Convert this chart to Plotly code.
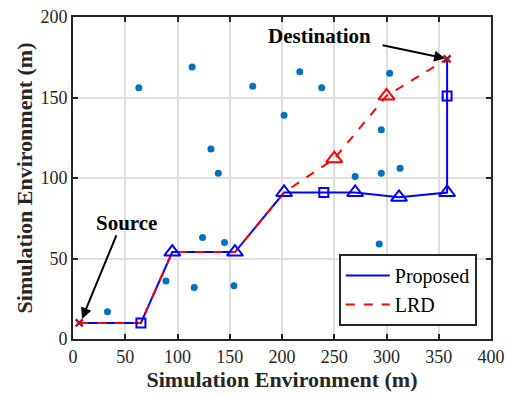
import plotly.graph_objects as go

# Scattered nodes in the environment
node_x = [63, 114, 172, 217, 238, 303, 202, 132, 139, 295, 270, 295, 313, 124, 145, 293, 89, 116, 154, 33]
node_y = [156, 169, 157, 166, 156, 165, 139, 118, 103, 130, 101, 103, 106, 63, 60, 59, 36, 32, 33, 17]

# Proposed route
prop_x = [6, 65, 95, 155, 202, 240, 270, 312, 358, 358, 358]
prop_y = [10, 10, 54, 54, 91, 91, 91, 88, 91, 151, 174]
prop_sq_x = [65, 240, 358]
prop_sq_y = [10, 91, 151]
prop_tri_x = [95, 155, 202, 270, 312, 358]
prop_tri_y = [54, 54, 91, 91, 88, 91]

# LRD route
lrd_x = [6, 65, 95, 155, 202, 250, 300, 358]
lrd_y = [10, 10, 54, 54, 91, 112, 151, 174]
lrd_tri_x = [250, 300]
lrd_tri_y = [112, 151]

# Source / destination
sd_x = [6, 358]
sd_y = [10, 174]

BLUE = "#0000FF"
RED = "#FF0000"
DOT = "#0072BD"
DARKRED = "#A2142F"
FONT = "Liberation Serif"

fig = go.Figure()
fig.add_trace(go.Scatter(x=node_x, y=node_y, mode="markers",
                         marker=dict(color=DOT, size=7), showlegend=False))
fig.add_trace(go.Scatter(x=prop_x, y=prop_y, mode="lines", name="Proposed",
                         line=dict(color=BLUE, width=2)))
fig.add_trace(go.Scatter(x=lrd_x, y=lrd_y, mode="lines", name="LRD",
                         line=dict(color=RED, width=2, dash="dash")))
fig.add_trace(go.Scatter(x=prop_sq_x, y=prop_sq_y, mode="markers", showlegend=False,
                         marker=dict(symbol="square-open", color=BLUE, size=9,
                                     line=dict(width=2, color=BLUE))))
fig.add_trace(go.Scatter(x=prop_tri_x, y=prop_tri_y, mode="markers", showlegend=False,
                         marker=dict(symbol="triangle-up-open", color=BLUE, size=14,
                                     line=dict(width=2, color=BLUE))))
fig.add_trace(go.Scatter(x=lrd_tri_x, y=lrd_tri_y, mode="markers", showlegend=False,
                         marker=dict(symbol="triangle-up-open", color=RED, size=14,
                                     line=dict(width=2, color=RED))))
fig.add_trace(go.Scatter(x=sd_x, y=sd_y, mode="markers", showlegend=False,
                         marker=dict(symbol="x-thin", color=DARKRED, size=7,
                                     line=dict(width=2.5, color=DARKRED))))

axis_common = dict(showgrid=True, gridcolor="#DFDFDF", gridwidth=2,
                   showline=True, linecolor="#262626", linewidth=2, mirror="ticks",
                   ticks="inside", ticklen=5, tickwidth=1.5, tickcolor="#262626",
                   zeroline=False, automargin=False, ticklabeloverflow="allow",
                   tickfont=dict(family=FONT, size=18, color="#262626"))

fig.update_layout(
    width=506, height=396,
    margin=dict(l=73, r=15, t=17, b=57),
    plot_bgcolor="white", paper_bgcolor="white",
    xaxis=dict(range=[0, 400], dtick=50,
               title=dict(text="<b>Simulation Environment (m)</b>", standoff=2,
                          font=dict(family=FONT, size=22, color="#262626")),
               **axis_common),
    yaxis=dict(range=[0, 200], dtick=50,
               title=dict(text="<b>Simulation Environment (m)</b>", standoff=2,
                          font=dict(family=FONT, size=22, color="#262626")),
               **axis_common),
    legend=dict(x=0.966, y=0.04, xanchor="right", yanchor="bottom",
                bgcolor="white", bordercolor="#262626", borderwidth=2,
                font=dict(family=FONT, size=20, color="black"),
                tracegroupgap=0, itemwidth=44),
    annotations=[
        dict(x=358, y=174, ax=-66, ay=-14, xref="x", yref="y", axref="pixel", ayref="pixel",
             text="", showarrow=True, arrowhead=2, arrowsize=1.1, arrowwidth=2,
             arrowcolor="black", standoff=2),
        dict(x=236, y=188, xref="x", yref="y", text="<b>Destination</b>", showarrow=False,
             font=dict(family=FONT, size=21, color="black")),
        dict(x=8.6, y=12.5, ax=35, ay=-85, xref="x", yref="y", axref="pixel", ayref="pixel",
             text="", showarrow=True, arrowhead=2, arrowsize=1.1, arrowwidth=2,
             arrowcolor="black"),
        dict(x=51, y=72, xref="x", yref="y", text="<b>Source</b>", showarrow=False,
             font=dict(family=FONT, size=21, color="black")),
    ],
)

fig.write_html("out.html",
               config={"displayModeBar": False},
               post_script="document.body.style.margin='0px';document.body.style.overflow='hidden';")
